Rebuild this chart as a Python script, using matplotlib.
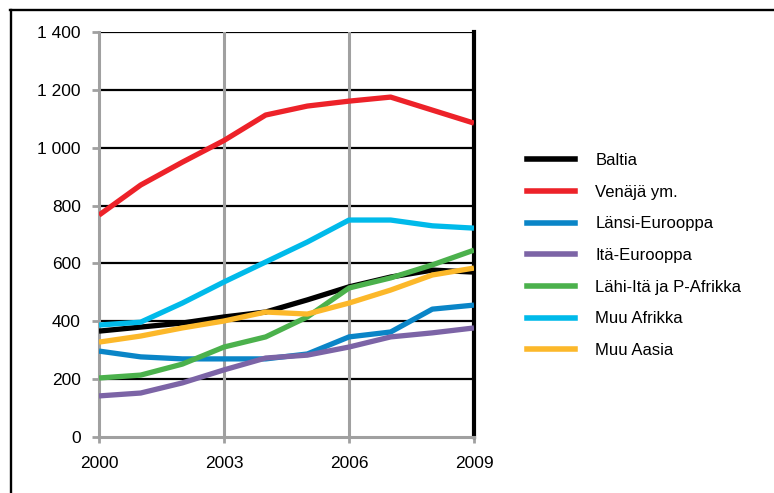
import matplotlib
matplotlib.use("Agg")
import matplotlib.pyplot as plt
from matplotlib.lines import Line2D

plt.rcParams['font.family'] = ['Liberation Sans', 'DejaVu Sans']

years = [2000, 2001, 2002, 2003, 2004, 2005, 2006, 2007, 2008, 2009]
baltia = [366, 380, 394, 415, 432, 474, 519, 553, 577, 570]
venaja = [767, 871, 950, 1025, 1113, 1144, 1161, 1175, 1130, 1085]
lansi = [297, 277, 270, 270, 270, 287, 346, 363, 442, 456]
ita = [142, 152, 187, 232, 273, 283, 311, 346, 360, 377]
lahi_ita = [204, 214, 252, 311, 346, 415, 515, 550, 595, 646]
muu_afrikka = [387, 397, 463, 536, 605, 674, 750, 750, 730, 722]
muu_aasia = [328, 349, 377, 401, 432, 425, 463, 508, 560, 584]

labels = ["Baltia", "Venäjä ym.", "Länsi-Eurooppa", "Itä-Eurooppa",
          "Lähi-Itä ja P-Afrikka", "Muu Afrikka", "Muu Aasia"]
series = [baltia, venaja, lansi, ita, lahi_ita, muu_afrikka, muu_aasia]
colors = ["#000000", "#ED2229", "#0A85C7", "#7C64A6", "#4BB14C", "#00BAEA", "#FCB82A"]

yticks = [0, 200, 400, 600, 800, 1000, 1200, 1400]
ytick_labels = ["0", "200", "400", "600", "800", "1 000", "1 200", "1 400"]
xticks = [2000, 2003, 2006, 2009]

fig = plt.figure(figsize=(7.74, 4.93), dpi=100)
ax = fig.add_axes([99/774, 1-437/493, 375/774, 405/493])

for y in yticks[1:]:
    ax.axhline(y, color="black", lw=1.6, zorder=1)
for x in xticks[1:3]:
    ax.axvline(x, color="#A0A0A0", lw=2.2, zorder=1)

for vals, c in zip(series, colors):
    ax.plot(years, vals, color=c, lw=3.8, zorder=3, solid_capstyle="butt")

ax.set_xlim(2000, 2009)
ax.set_ylim(0, 1400)
ax.set_yticks(yticks)
ax.set_yticklabels(ytick_labels)
ax.set_xticks(xticks)
ax.tick_params(axis="y", length=5, width=2, color="#A0A0A0", pad=8, labelsize=12.5)
ax.tick_params(axis="x", length=4, width=2, color="#A0A0A0", pad=10, labelsize=12.5)

ax.spines["left"].set_color("#A0A0A0")
ax.spines["left"].set_linewidth(2.2)
ax.spines["bottom"].set_color("#A0A0A0")
ax.spines["bottom"].set_linewidth(2.2)
ax.spines["right"].set_color("black")
ax.spines["right"].set_linewidth(3)
ax.spines["top"].set_visible(False)

handles = [Line2D([0], [0], color=c, lw=4) for c in colors]
fig.legend(handles, labels, loc="upper left", bbox_to_anchor=(512/774, 1-138/493),
           frameon=False, fontsize=12, handlelength=2.9, labelspacing=1.0,
           handletextpad=1.2)

# outer frame (cropped on right and bottom)
fig.add_artist(Line2D([10/774, 1], [1-10/493, 1-10/493], color="black", lw=1.7,
                      transform=fig.transFigure))
fig.add_artist(Line2D([11/774, 11/774], [0, 1-10/493], color="black", lw=1.7,
                      transform=fig.transFigure))

fig.savefig("out.png", dpi=100)
